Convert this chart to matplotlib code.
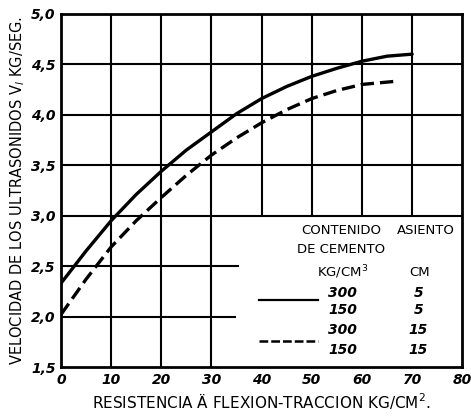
import matplotlib.pyplot as plt
import matplotlib.ticker as ticker

# curves (resistance kg/cm2 -> velocity km/s)
x_solid = [0, 5, 10, 15, 20, 25, 30, 35, 40, 45, 50, 55, 60, 65, 70]
y_solid = [2.33, 2.65, 2.95, 3.21, 3.44, 3.65, 3.83, 4.01, 4.16, 4.28, 4.38, 4.46, 4.53, 4.58, 4.60]

x_dash = [0, 5, 10, 15, 20, 25, 30, 35, 40, 45, 50, 55, 60, 66.5]
y_dash = [2.02, 2.37, 2.69, 2.95, 3.18, 3.40, 3.60, 3.77, 3.92, 4.05, 4.16, 4.24, 4.30, 4.33]

x_ticks = [0, 10, 20, 30, 40, 50, 60, 70, 80]
y_ticks = [1.5, 2.0, 2.5, 3.0, 3.5, 4.0, 4.5, 5.0]

cemento = ["300", "150", "300", "150"]
asiento = ["5", "5", "15", "15"]

plt.rcParams["font.family"] = ["DejaVu Sans"]

fig = plt.figure(figsize=(4.71, 4.18), dpi=100)
ax = fig.add_axes([0.1295, 0.122, 0.852, 0.845])
ax.set_xlim(0, 80)
ax.set_ylim(1.5, 5.0)

# grid: the lower right part is left open for the key
gkw = dict(color="black", lw=1.5, zorder=1)
for xv in [10, 20, 30]:
    ax.vlines(xv, 1.5, 5.0, **gkw)
for xv in [40, 50, 60, 70]:
    ax.vlines(xv, 3.0, 5.0, **gkw)
for yv in [3.0, 3.5, 4.0, 4.5]:
    ax.hlines(yv, 0, 80, **gkw)
ax.hlines(2.5, 0, 35.5, **gkw)
ax.hlines(2.0, 0, 34.8, **gkw)

ax.plot(x_solid, y_solid, color="black", lw=2.4, solid_capstyle="round", zorder=3)
ax.plot(x_dash, y_dash, color="black", lw=2.4, dashes=(4, 1.8), zorder=3)

# key
ax.plot([39.4, 51.2], [2.16, 2.16], color="black", lw=1.6)
ax.plot([39.4, 51.2], [1.76, 1.76], color="black", lw=1.8, dashes=(3.5, 1.2))
tkw = dict(ha="center", va="center", fontsize=9.5)
ax.text(55.8, 2.855, "CONTENIDO", **tkw)
ax.text(55.8, 2.66, "DE CEMENTO", **tkw)
ax.text(56.2, 2.44, "KG/CM$^3$", **tkw)
ax.text(72.8, 2.855, "ASIENTO", **tkw)
ax.text(71.4, 2.44, "CM", **tkw)
for i, (c, a) in enumerate(zip(cemento, asiento)):
    yy = [2.23, 2.06, 1.87, 1.67][i]
    ax.text(56.2, yy, c, ha="center", va="center", fontsize=10, style="italic", weight="bold")
    ax.text(71.2, yy, a, ha="center", va="center", fontsize=10, style="italic", weight="bold")

for s in ax.spines.values():
    s.set_linewidth(2)

ax.set_xticks(x_ticks)
ax.set_yticks(y_ticks)
ax.yaxis.set_major_formatter(ticker.FuncFormatter(lambda v, p: ("%.1f" % v).replace(".", ",")))
ax.tick_params(length=0, labelsize=10, pad=4)
for lab in ax.get_xticklabels() + ax.get_yticklabels():
    lab.set_style("italic")
    lab.set_weight("bold")

ax.set_xlabel("RESISTENCIA Ä FLEXION-TRACCION KG/CM$^2$.", fontsize=11, labelpad=3)
ax.set_ylabel("VELOCIDAD DE LOS ULTRASONIDOS V$_l$ KG/SEG.", fontsize=10.5, labelpad=3)

fig.savefig("out.png", dpi=100)
